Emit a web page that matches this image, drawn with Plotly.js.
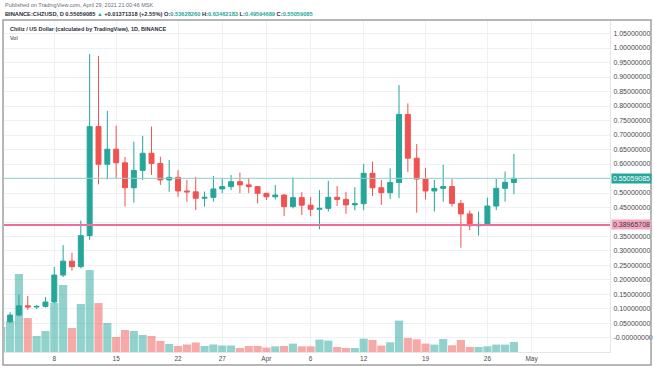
<!DOCTYPE html>
<html><head><meta charset="utf-8">
<script src="https://cdn.plot.ly/plotly-3.0.1.min.js"></script>
<style>html,body{margin:0;padding:0;background:#fff;}#chart{width:654px;height:366px;}</style>
</head><body><div id="chart"></div>
<script>
const dates = ['2021-03-02','2021-03-03','2021-03-04','2021-03-05','2021-03-06','2021-03-07','2021-03-08','2021-03-09','2021-03-10','2021-03-11',
 '2021-03-12','2021-03-13','2021-03-14','2021-03-15','2021-03-16','2021-03-17','2021-03-18','2021-03-19','2021-03-20','2021-03-21',
 '2021-03-22','2021-03-23','2021-03-24','2021-03-25','2021-03-26','2021-03-27','2021-03-28','2021-03-29','2021-03-30','2021-03-31',
 '2021-04-01','2021-04-02','2021-04-03','2021-04-04','2021-04-05','2021-04-06','2021-04-07','2021-04-08','2021-04-09','2021-04-10',
 '2021-04-11','2021-04-12','2021-04-13','2021-04-14','2021-04-15','2021-04-16','2021-04-17','2021-04-18','2021-04-19','2021-04-20',
 '2021-04-21','2021-04-22','2021-04-23','2021-04-24','2021-04-25','2021-04-26','2021-04-27','2021-04-28','2021-04-29'];
const opens = [0.050,0.056,0.079,0.111,0.107,0.109,0.124,0.217,0.265,0.246,
 0.353,0.729,0.599,0.651,0.604,0.518,0.578,0.637,0.602,0.545,
 0.554,0.507,0.504,0.482,0.485,0.514,0.522,0.539,0.528,0.522,
 0.499,0.487,0.493,0.453,0.484,0.458,0.444,0.447,0.485,0.478,
 0.459,0.463,0.568,0.518,0.501,0.536,0.771,0.620,0.548,0.507,
 0.516,0.522,0.464,0.428,0.387,0.392,0.455,0.516,0.53628260];
const highs = [0.060,0.089,0.150,0.145,0.113,0.141,0.245,0.320,0.294,0.405,
 0.979,0.973,0.783,0.732,0.624,0.677,0.697,0.729,0.625,0.614,
 0.579,0.545,0.556,0.505,0.559,0.551,0.562,0.570,0.552,0.524,
 0.500,0.528,0.496,0.553,0.503,0.486,0.510,0.542,0.524,0.504,
 0.520,0.600,0.608,0.545,0.585,0.872,0.809,0.669,0.587,0.545,
 0.597,0.548,0.476,0.439,0.436,0.484,0.551,0.574,0.63462183];
const lows = [0.046,0.052,0.075,0.097,0.100,0.105,0.120,0.210,0.232,0.240,
 0.338,0.530,0.547,0.551,0.453,0.467,0.545,0.562,0.528,0.504,
 0.487,0.470,0.441,0.453,0.470,0.499,0.510,0.499,0.500,0.464,
 0.476,0.478,0.421,0.447,0.424,0.420,0.375,0.436,0.455,0.428,
 0.440,0.441,0.490,0.459,0.480,0.482,0.573,0.432,0.478,0.436,
 0.470,0.453,0.311,0.372,0.353,0.390,0.441,0.470,0.49594689];
const closes = [0.056,0.079,0.111,0.107,0.109,0.124,0.217,0.265,0.246,0.353,
 0.729,0.599,0.651,0.604,0.518,0.578,0.637,0.602,0.545,0.554,
 0.507,0.504,0.482,0.485,0.514,0.522,0.539,0.528,0.522,0.499,
 0.487,0.493,0.453,0.484,0.458,0.444,0.447,0.485,0.478,0.459,
 0.463,0.568,0.518,0.501,0.536,0.771,0.620,0.548,0.507,0.516,
 0.522,0.464,0.428,0.387,0.392,0.455,0.516,0.53687767,0.55059085];
// volume in millions (estimated)
const volumes = [250,310,780,340,160,210,490,670,240,480,
 820,490,290,150,220,210,170,160,110,80,
 60,75,95,60,75,65,65,40,60,60,
 44,57,60,84,57,57,124,114,50,40,
 40,134,120,64,97,314,140,127,84,74,
 130,67,120,50,50,57,74,74,100];

const yTickVals = [0,0.05,0.10,0.15,0.20,0.25,0.30,0.35,0.40,0.45,0.50,0.55,0.60,0.65,0.70,0.75,0.80,0.85,0.90,0.95,1.00,1.05];
const yTickText = ['-0.00000000','0.05000000','0.10000000','0.15000000','0.20000000','0.25000000','0.30000000','0.35000000','','0.45000000',
 '0.50000000','','0.60000000','0.65000000','0.70000000','0.75000000','0.80000000','0.85000000','0.90000000','0.95000000','1.00000000','1.05000000'];
const xTickVals = ['2021-03-08','2021-03-15','2021-03-22','2021-03-27','2021-04-01','2021-04-06','2021-04-12','2021-04-19','2021-04-26','2021-05-01'];
const xTickText = ['8','15','22','27','Apr','6','12','19','26','May'];

const supportLevel = 0.38965708;
const lastClose = closes[closes.length - 1];
const lastOpen = opens[opens.length - 1];

const UP = '#26a69a', DOWN = '#ef5350';
const volColors = closes.map((c, i) => c >= opens[i] ? 'rgba(38,166,154,0.5)' : 'rgba(239,83,80,0.5)');

const FONT = 'Liberation Sans, Arial, sans-serif';

const traces = [
  {type: 'bar', x: dates, y: volumes, marker: {color: volColors, line: {width: 0}}, xaxis: 'x', yaxis: 'y', hoverinfo: 'skip'},
  {type: 'candlestick', x: dates, open: opens, high: highs, low: lows, close: closes, xaxis: 'x', yaxis: 'y2',
   increasing: {line: {color: UP, width: 1}, fillcolor: UP},
   decreasing: {line: {color: DOWN, width: 1}, fillcolor: DOWN},
   whiskerwidth: 0, hoverinfo: 'skip'}
];

const W = 606, H = 331, L = 4, T = 21;
const px = v => (v - L) / W;
const py = v => (T + H - v) / H;

const prevClose = closes[closes.length - 2];
const change = lastClose - prevClose;
const pct = change / prevClose * 100;
const teal = '#26a69a';
const line2 = 'BINANCE:CHZUSD, D ' + lastClose.toFixed(8) + ' <span style="color:' + teal + '">▲</span> +' + change.toFixed(8) +
  ' (+' + pct.toFixed(2) + '%) O:<span style="color:' + teal + '">' + lastOpen.toFixed(8) + '</span> H:<span style="color:' + teal + '">' +
  highs[highs.length - 1].toFixed(8) + '</span> L:<span style="color:' + teal + '">' + lows[lows.length - 1].toFixed(8) +
  '</span> C:<span style="color:' + teal + '">' + lastClose.toFixed(8) + '</span>';

const layout = {
  width: 654, height: 366,
  margin: {l: 4, r: 44, t: 21, b: 14, pad: 0},
  paper_bgcolor: '#fff', plot_bgcolor: '#fff',
  showlegend: false,
  bargap: 0.08,
  boxgap: 0.2,
  font: {family: FONT, color: '#4a4a4a'},
  xaxis: {
    type: 'date', range: ['2021-03-02 07:26', '2021-05-09 20:53'],
    rangeslider: {visible: false},
    tickvals: xTickVals, ticktext: xTickText,
    tickfont: {size: 6.5, color: '#4a4a4a', family: FONT},
    showgrid: true, gridcolor: '#eef0f4', gridwidth: 1,
    showline: true, linecolor: '#e3e5ea', linewidth: 1, mirror: false,
    ticks: '', zeroline: false, fixedrange: true
  },
  yaxis: {range: [0, 3310], visible: false, showgrid: false, zeroline: false, fixedrange: true},
  yaxis2: {
    overlaying: 'y', side: 'right', range: [-0.0483, 1.0931],
    tickvals: yTickVals, ticktext: yTickText,
    tickfont: {size: 7, color: '#4a4a4a', family: FONT},
    showgrid: true, gridcolor: '#eef0f4', gridwidth: 1,
    showline: true, linecolor: '#e3e5ea', linewidth: 1,
    ticks: '', ticklabelstandoff: 1, zeroline: false, fixedrange: true
  },
  shapes: [
    {type: 'line', xref: 'paper', yref: 'y2', x0: 0, x1: 1, y0: lastClose, y1: lastClose, line: {color: '#8fd3cb', width: 1}, layer: 'above'},
    {type: 'line', xref: 'paper', yref: 'y2', x0: 0, x1: 1, y0: supportLevel, y1: supportLevel, line: {color: '#ef6c9c', width: 2}, layer: 'above'},
    {type: 'rect', xref: 'paper', yref: 'paper', x0: px(3), x1: px(651), y0: py(365), y1: py(20), line: {color: '#a0a0a0', width: 1.5}, fillcolor: 'rgba(0,0,0,0)', layer: 'above'}
  ],
  annotations: [
    {xref: 'paper', yref: 'y2', x: 1, y: lastClose, xanchor: 'left', yanchor: 'middle', xshift: 1, showarrow: false,
     text: lastClose.toFixed(8), bgcolor: UP, font: {size: 7, color: '#ffffff', family: FONT}, borderpad: 1},
    {xref: 'paper', yref: 'y2', x: 1, y: supportLevel, xanchor: 'left', yanchor: 'middle', xshift: 1, showarrow: false,
     text: supportLevel.toFixed(8), bgcolor: '#f5a6c3', font: {size: 7, color: '#3a3a3a', family: FONT}, borderpad: 1},
    {xref: 'paper', yref: 'paper', x: px(3), y: py(5), xanchor: 'left', yanchor: 'middle', showarrow: false,
     text: 'Published on TradingView.com, April 29, 2021 21:00:46 MSK', font: {size: 5.5, color: '#6a6d78', family: FONT}},
    {xref: 'paper', yref: 'paper', x: px(3), y: py(14), xanchor: 'left', yanchor: 'middle', showarrow: false,
     text: '<b>' + line2 + '</b>', font: {size: 5.7, color: '#2a2e39', family: FONT}},
    {xref: 'paper', yref: 'paper', x: px(8), y: py(29), xanchor: 'left', yanchor: 'middle', showarrow: false,
     text: '<b>Chiliz / US Dollar (calculated by TradingView), 1D, BINANCE</b>', font: {size: 5.5, color: '#2a2e39', family: FONT}},
    {xref: 'paper', yref: 'paper', x: px(8), y: py(38), xanchor: 'left', yanchor: 'middle', showarrow: false,
     text: 'Vol', font: {size: 5.5, color: '#2a2e39', family: FONT}}
  ]
};

Plotly.newPlot('chart', traces, layout, {displayModeBar: false, staticPlot: true});
</script>
</body></html>
